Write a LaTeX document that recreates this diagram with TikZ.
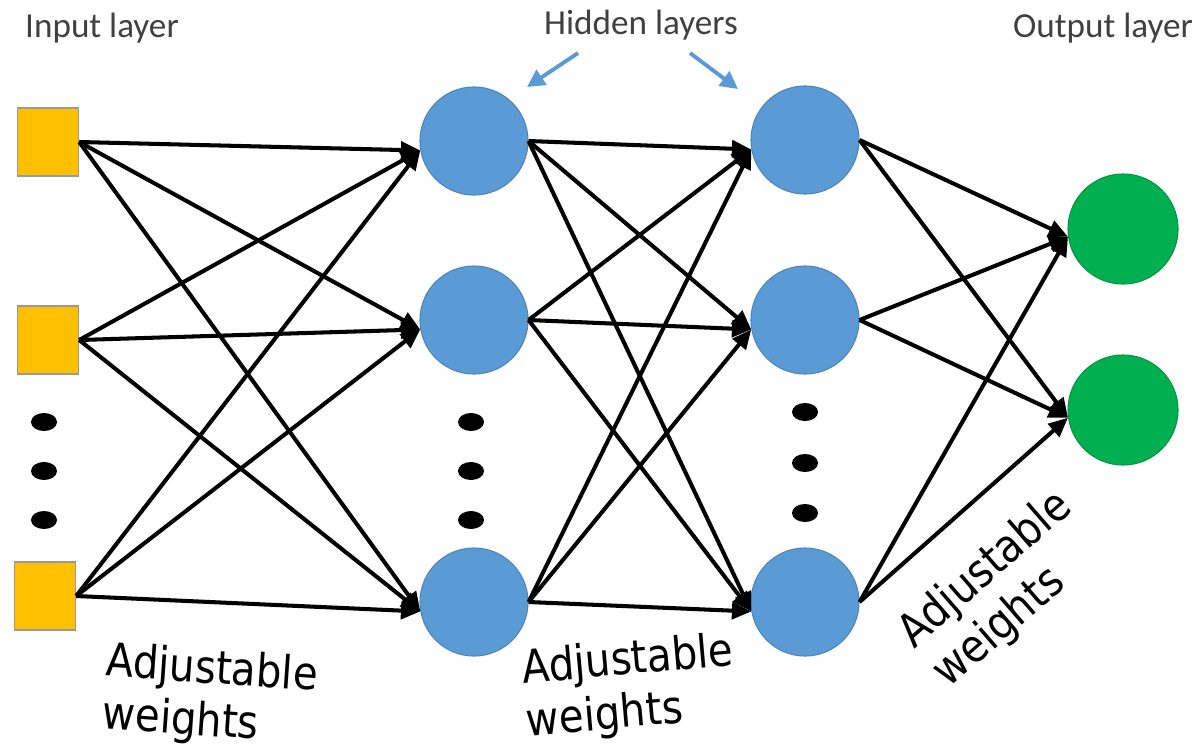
\documentclass[tikz,border=0pt]{standalone}
\usepackage{fontspec}
\usepackage{xcolor}
\usetikzlibrary{arrows.meta,shapes.geometric}
\newfontfamily\lblfont{Carlito}
\newfontfamily\wfont{DejaVu Sans}[FakeStretch=0.88]
\definecolor{inyellow}{HTML}{FFC000}
\definecolor{hidblue}{HTML}{5B9BD5}
\definecolor{outgreen}{HTML}{00B050}
\definecolor{labgray}{HTML}{404040}

\begin{document}
\begin{tikzpicture}[x=0.01cm,y=-0.01cm,
  inp/.style={draw=gray!80,line width=0.4pt,fill=inyellow,minimum width=0.61cm,minimum height=0.68cm,inner sep=0pt},
  hid/.style={circle,draw=hidblue!85!black,line width=0.3pt,fill=hidblue,minimum size=1.08cm,inner sep=0pt},
  outn/.style={circle,draw=outgreen!85!black,line width=0.3pt,fill=outgreen,minimum size=1.1cm,inner sep=0pt},
  dotmark/.style={ellipse,fill=black,minimum width=0.26cm,minimum height=0.18cm,inner sep=0pt},
  wire/.style={line width=1.15pt,-{Triangle[length=5.5pt,width=4.8pt]}},
  hidarrow/.style={draw=hidblue,line width=1.1pt,-{Triangle[length=5pt,width=5pt]}},
  toplbl/.style={text=labgray,font=\lblfont\fontsize{10}{12}\selectfont},
  wlbl/.style={align=left,inner sep=0pt,font=\wfont\fontsize{13}{15}\selectfont}]
  \useasboundingbox (0,0) rectangle (1203,754);
  % layers
  \node[inp] (i1) at (48,142) {}; \node[inp] (i2) at (48,340) {}; \node[inp] (i3) at (45,596) {};
  \node[hid] (h1) at (474,141) {}; \node[hid] (h2) at (474,320) {}; \node[hid] (h3) at (474,602) {};
  \node[hid] (k1) at (805,140) {}; \node[hid] (k2) at (805,320) {}; \node[hid] (k3) at (805,602) {};
  \node[outn] (o1) at (1123,229) {}; \node[outn] (o2) at (1123,410) {};
  % dots
  \node[dotmark] (di1) at (44,422) {}; \node[dotmark] (di2) at (44,471) {}; \node[dotmark] (di3) at (44,520) {};
  \node[dotmark] (dh1) at (471,422) {}; \node[dotmark] (dh2) at (471,471) {}; \node[dotmark] (dh3) at (471,520) {};
  \node[dotmark] (dk1) at (805,412) {}; \node[dotmark] (dk2) at (805,463) {}; \node[dotmark] (dk3) at (805,513) {};
  % weights
  \foreach \s in {i1,i2,i3} \foreach \t in {h1,h2,h3} \draw[wire] (\s.east) -- (\t.190);
  \foreach \s in {h1,h2,h3} \foreach \t in {k1,k2,k3} \draw[wire] (\s.east) -- (\t.190);
  \foreach \s in {k1,k2,k3} \foreach \t in {o1,o2} \draw[wire] (\s.east) -- (\t.188);
  % labels
  \node[toplbl] (inlbl) at (102,28) {Input layer};
  \node[toplbl] (hidlbl) at (641,25) {Hidden layers};
  \node[toplbl] (outlbl) at (1103,28) {Output layer};
  \coordinate (ha0) at (578,53); \coordinate (ha) at (527,87);
  \coordinate (hb0) at (690,53); \coordinate (hb) at (738,89);
  \draw[hidarrow] (ha0) -- (ha); \draw[hidarrow] (hb0) -- (hb);
  \node[wlbl,rotate=-4] (w1) at (210,697) {Adjustable\\weights};
  \node[wlbl,rotate=5] (w2) at (630,688) {Adjustable\\weights};
  \node[wlbl,rotate=41] (w3) at (1003,590) {Adjustable\\weights};
\end{tikzpicture}
\end{document}
